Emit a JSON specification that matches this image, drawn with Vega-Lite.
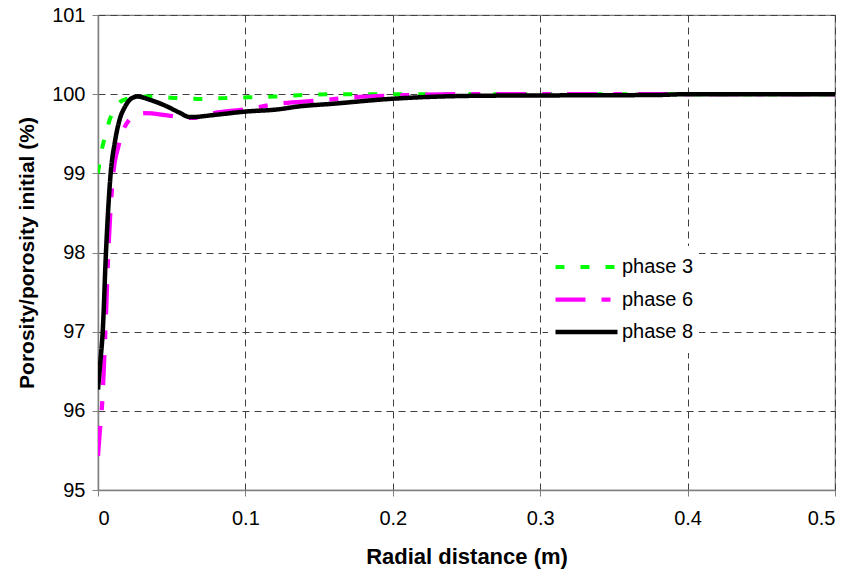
{
  "$schema": "https://vega.github.io/schema/vega-lite/v6.json",
  "autosize": "none",
  "width": 737,
  "height": 475,
  "padding": {"left": 98, "top": 15, "right": 13, "bottom": 84},
  "background": "white",
  "config": {
    "font": "Liberation Sans",
    "view": {"stroke": "#808080", "strokeWidth": 1.2},
    "axis": {
      "labelFont": "Liberation Sans",
      "labelFontSize": 20,
      "labelColor": "black",
      "titleFont": "Liberation Sans",
      "titleFontSize": 21,
      "titleFontWeight": "bold",
      "titleColor": "black",
      "domainColor": "#808080",
      "domainWidth": 1.5,
      "tickColor": "#808080",
      "tickSize": 6,
      "gridColor": "#404040",
      "gridDash": [7, 5],
      "gridWidth": 1,
      "gridOpacity": 1
    }
  },
  "data": {
    "values": [
      {"phase": "phase 3", "x": 0, "y": 99.0},
      {"phase": "phase 3", "x": 0.0015, "y": 99.2},
      {"phase": "phase 3", "x": 0.0036, "y": 99.38},
      {"phase": "phase 3", "x": 0.006, "y": 99.55},
      {"phase": "phase 3", "x": 0.008, "y": 99.68},
      {"phase": "phase 3", "x": 0.011, "y": 99.8},
      {"phase": "phase 3", "x": 0.015, "y": 99.9},
      {"phase": "phase 3", "x": 0.0195, "y": 99.94},
      {"phase": "phase 3", "x": 0.025, "y": 99.97},
      {"phase": "phase 3", "x": 0.036, "y": 99.97},
      {"phase": "phase 3", "x": 0.0545, "y": 99.95},
      {"phase": "phase 3", "x": 0.068, "y": 99.94},
      {"phase": "phase 3", "x": 0.086, "y": 99.95},
      {"phase": "phase 3", "x": 0.102, "y": 99.96},
      {"phase": "phase 3", "x": 0.12, "y": 99.97},
      {"phase": "phase 3", "x": 0.14, "y": 99.99},
      {"phase": "phase 3", "x": 0.17, "y": 100.0},
      {"phase": "phase 3", "x": 0.3, "y": 100.0},
      {"phase": "phase 3", "x": 0.5, "y": 100.0},
      {"phase": "phase 6", "x": 0, "y": 95.43},
      {"phase": "phase 6", "x": 0.0013, "y": 95.75},
      {"phase": "phase 6", "x": 0.0025, "y": 96.0},
      {"phase": "phase 6", "x": 0.005, "y": 97.0},
      {"phase": "phase 6", "x": 0.007, "y": 98.0},
      {"phase": "phase 6", "x": 0.0104, "y": 99.0},
      {"phase": "phase 6", "x": 0.014, "y": 99.35},
      {"phase": "phase 6", "x": 0.017, "y": 99.54},
      {"phase": "phase 6", "x": 0.0206, "y": 99.66},
      {"phase": "phase 6", "x": 0.027, "y": 99.74},
      {"phase": "phase 6", "x": 0.032, "y": 99.76},
      {"phase": "phase 6", "x": 0.048, "y": 99.73},
      {"phase": "phase 6", "x": 0.0636, "y": 99.7},
      {"phase": "phase 6", "x": 0.081, "y": 99.77},
      {"phase": "phase 6", "x": 0.1, "y": 99.81},
      {"phase": "phase 6", "x": 0.123, "y": 99.88},
      {"phase": "phase 6", "x": 0.15, "y": 99.92},
      {"phase": "phase 6", "x": 0.173, "y": 99.96},
      {"phase": "phase 6", "x": 0.214, "y": 99.99},
      {"phase": "phase 6", "x": 0.25, "y": 100.0},
      {"phase": "phase 6", "x": 0.5, "y": 100.0},
      {"phase": "phase 8", "x": 0, "y": 96.27},
      {"phase": "phase 8", "x": 0.0015, "y": 96.6},
      {"phase": "phase 8", "x": 0.0032, "y": 97.0},
      {"phase": "phase 8", "x": 0.0054, "y": 98.0},
      {"phase": "phase 8", "x": 0.0086, "y": 99.0},
      {"phase": "phase 8", "x": 0.0115, "y": 99.4},
      {"phase": "phase 8", "x": 0.015, "y": 99.7},
      {"phase": "phase 8", "x": 0.018, "y": 99.83},
      {"phase": "phase 8", "x": 0.023, "y": 99.95},
      {"phase": "phase 8", "x": 0.027, "y": 99.97},
      {"phase": "phase 8", "x": 0.035, "y": 99.93},
      {"phase": "phase 8", "x": 0.045, "y": 99.86},
      {"phase": "phase 8", "x": 0.055, "y": 99.77},
      {"phase": "phase 8", "x": 0.0624, "y": 99.71},
      {"phase": "phase 8", "x": 0.08, "y": 99.74},
      {"phase": "phase 8", "x": 0.1, "y": 99.78},
      {"phase": "phase 8", "x": 0.123, "y": 99.81},
      {"phase": "phase 8", "x": 0.134, "y": 99.84},
      {"phase": "phase 8", "x": 0.16, "y": 99.88},
      {"phase": "phase 8", "x": 0.198, "y": 99.94},
      {"phase": "phase 8", "x": 0.259, "y": 99.98},
      {"phase": "phase 8", "x": 0.38, "y": 99.99},
      {"phase": "phase 8", "x": 0.4, "y": 100.0},
      {"phase": "phase 8", "x": 0.5, "y": 100.0}
    ]
  },
  "mark": {"type": "line", "interpolate": "monotone", "clip": true},
  "encoding": {
    "x": {
      "field": "x",
      "type": "quantitative",
      "title": "Radial distance (m)",
      "scale": {"domain": [0, 0.5], "nice": false, "zero": false},
      "axis": {"values": [0, 0.1, 0.2, 0.3, 0.4, 0.5], "format": ".1~f", "labelPadding": 12, "titlePadding": 18, "titleFontSize": 22}
    },
    "y": {
      "field": "y",
      "type": "quantitative",
      "title": "Porosity/porosity initial (%)",
      "scale": {"domain": [95, 101], "nice": false, "zero": false},
      "axis": {"values": [95, 96, 97, 98, 99, 100, 101], "labelPadding": 7, "titlePadding": 14}
    },
    "color": {
      "field": "phase",
      "type": "nominal",
      "title": null,
      "scale": {"domain": ["phase 3", "phase 6", "phase 8"], "range": ["#00ff00", "#ff00ff", "#000000"]},
      "legend": {
        "orient": "none",
        "legendX": 450,
        "legendY": 231,
        "symbolType": "stroke",
        "symbolSize": 3844,
        "clipHeight": 32,
        "rowPadding": 0.5,
        "labelFont": "Liberation Sans",
        "labelFontSize": 20,
        "labelColor": "black",
        "labelOffset": 2,
        "fillColor": "white",
        "padding": 5
      }
    },
    "strokeDash": {
      "field": "phase",
      "type": "nominal",
      "title": null,
      "scale": {"domain": ["phase 3", "phase 6", "phase 8"], "range": [[9, 16], [30, 16, 9, 16], [1, 0]]}
    },
    "strokeWidth": {
      "field": "phase",
      "type": "nominal",
      "title": null,
      "scale": {"domain": ["phase 3", "phase 6", "phase 8"], "range": [4, 4.5, 2.2]}
    }
  }
}
